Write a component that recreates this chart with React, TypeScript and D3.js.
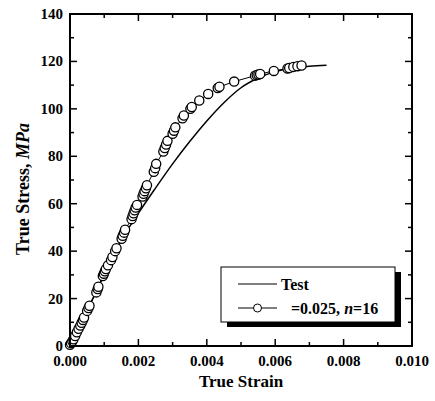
import React from "react";
import * as d3 from "d3";

const testStrain = [0, 0.0005, 0.001, 0.0015, 0.002, 0.0025, 0.003, 0.0035, 0.004, 0.0045, 0.005, 0.0055, 0.006, 0.0065, 0.007, 0.0075];
const testStress = [0, 15, 30, 44.5, 56, 66.6, 76.8, 86.2, 94.9, 102.6, 108.9, 113.0, 115.7, 117.2, 118.0, 118.4];

const modelStrain = [0, 0.00003, 0.00007, 0.0001, 0.00015, 0.0002, 0.00025, 0.0003, 0.00034, 0.00038, 0.00041, 0.0005, 0.00054, 0.00057, 0.00077, 0.00081, 0.00083, 0.00096, 0.00099, 0.00102, 0.00105, 0.00111, 0.0012, 0.00124, 0.00132, 0.00136, 0.00151, 0.00154, 0.00158, 0.00161, 0.0018, 0.00183, 0.00186, 0.00189, 0.00192, 0.00196, 0.00212, 0.00215, 0.00218, 0.00222, 0.00225, 0.00245, 0.00249, 0.00252, 0.00273, 0.00277, 0.00281, 0.00285, 0.003, 0.00304, 0.00308, 0.00329, 0.00333, 0.00352, 0.00356, 0.00378, 0.00404, 0.00432, 0.00437, 0.0048, 0.00541, 0.00546, 0.00551, 0.00556, 0.00596, 0.00636, 0.00641, 0.00653, 0.00665, 0.00677];
const modelStress = [0.5, 1.2, 2.0, 2.8, 4.2, 5.8, 7.3, 8.6, 9.8, 11.0, 12.0, 14.8, 16.0, 17.0, 22.6, 24.0, 25.0, 29.5, 30.5, 31.5, 32.5, 34.0, 36.2, 37.5, 40.0, 41.2, 45.2, 46.5, 47.8, 49.0, 53.5, 54.8, 56.0, 57.2, 58.4, 59.5, 63.0, 64.2, 65.3, 66.5, 67.8, 73.5, 75.0, 76.8, 82.0, 83.5, 85.0, 86.5, 89.5, 90.8, 92.2, 96.0, 97.2, 100.0, 100.8, 103.5, 106.3, 108.8, 109.3, 111.5, 114.0, 114.3, 114.5, 114.7, 116.0, 117.0, 117.2, 117.7, 118.0, 118.3];

const xTicks = [0, 0.002, 0.004, 0.006, 0.008, 0.01];
const xMinor = [0.001, 0.003, 0.005, 0.007, 0.009];
const yTicks = [0, 20, 40, 60, 80, 100, 120, 140];
const yMinor = [10, 30, 50, 70, 90, 110, 130];

const legendLabels = ["Test", "=0.025, "];

export default function App() {
  const W = 435, H = 401;
  const L = 70, R = 412, T = 14, B = 346;
  const x = d3.scaleLinear().domain([0, 0.01]).range([L, R]);
  const y = d3.scaleLinear().domain([0, 140]).range([B, T]);
  const font = "'Liberation Serif', 'Times New Roman', serif";

  const testLine = d3.line<number>().x((d, i) => x(testStrain[i])).y((d, i) => y(testStress[i])).curve(d3.curveMonotoneX)(testStrain)!;
  const modelLine = d3.line<number>().x((d, i) => x(modelStrain[i])).y((d, i) => y(modelStress[i]))(modelStrain)!;

  const maj = 7, mnr = 4;
  const lx = 221, ly = 267, lw = 174, lh = 55;

  return (
    <svg width={W} height={H} style={{ position: "absolute", left: 0, top: 0, background: "#fff" }} fontFamily={font} fontWeight="bold">
      <rect x={0} y={0} width={W} height={H} fill="#fff" />
      {/* data */}
      <path d={testLine} fill="none" stroke="#000" strokeWidth={1.5} />
      <path d={modelLine} fill="none" stroke="#000" strokeWidth={1} />
      {modelStrain.map((s, i) => (
        <circle key={i} cx={x(s)} cy={y(modelStress[i])} r={4.6} fill="#fff" stroke="#000" strokeWidth={1.3} />
      ))}
      {/* ticks */}
      {xTicks.map((t) => (
        <g key={"xt" + t}>
          <line x1={x(t)} x2={x(t)} y1={B} y2={B - maj} stroke="#000" strokeWidth={1.5} />
          <line x1={x(t)} x2={x(t)} y1={T} y2={T + maj} stroke="#000" strokeWidth={1.5} />
          <text x={x(t)} y={366} textAnchor="middle" fontSize={15}>{t.toFixed(3)}</text>
        </g>
      ))}
      {xMinor.map((t) => (
        <g key={"xm" + t}>
          <line x1={x(t)} x2={x(t)} y1={B} y2={B - mnr} stroke="#000" strokeWidth={1.5} />
          <line x1={x(t)} x2={x(t)} y1={T} y2={T + mnr} stroke="#000" strokeWidth={1.5} />
        </g>
      ))}
      {yTicks.map((t) => (
        <g key={"yt" + t}>
          <line x1={L} x2={L + maj} y1={y(t)} y2={y(t)} stroke="#000" strokeWidth={1.5} />
          <line x1={R} x2={R - maj} y1={y(t)} y2={y(t)} stroke="#000" strokeWidth={1.5} />
          <text x={63} y={y(t) + 5} textAnchor="end" fontSize={15}>{t}</text>
        </g>
      ))}
      {yMinor.map((t) => (
        <g key={"ym" + t}>
          <line x1={L} x2={L + mnr} y1={y(t)} y2={y(t)} stroke="#000" strokeWidth={1.5} />
          <line x1={R} x2={R - mnr} y1={y(t)} y2={y(t)} stroke="#000" strokeWidth={1.5} />
        </g>
      ))}
      <rect x={L} y={T} width={R - L} height={B - T} fill="none" stroke="#000" strokeWidth={2} />
      {/* axis titles */}
      <text x={241} y={387} textAnchor="middle" fontSize={17}>True Strain</text>
      <text transform={`translate(29,189) rotate(-90)`} textAnchor="middle" fontSize={18}>
        True Stress, <tspan fontStyle="italic">MPa</tspan>
      </text>
      {/* legend */}
      <rect x={lx + 6} y={ly + 5} width={lw} height={lh} fill="#000" />
      <rect x={lx} y={ly} width={lw} height={lh} fill="#fff" stroke="#000" strokeWidth={1} />
      <line x1={238} x2={277} y1={284} y2={284} stroke="#000" strokeWidth={1.2} />
      <text x={281} y={289.5} fontSize={16}>{legendLabels[0]}</text>
      <line x1={238} x2={277} y1={308} y2={308} stroke="#000" strokeWidth={1} />
      <circle cx={257.5} cy={308} r={4} fill="#fff" stroke="#000" strokeWidth={1} />
      <text x={291} y={313.5} fontSize={16}>
        {legendLabels[1]}<tspan fontStyle="italic">n</tspan>=16
      </text>
    </svg>
  );
}
